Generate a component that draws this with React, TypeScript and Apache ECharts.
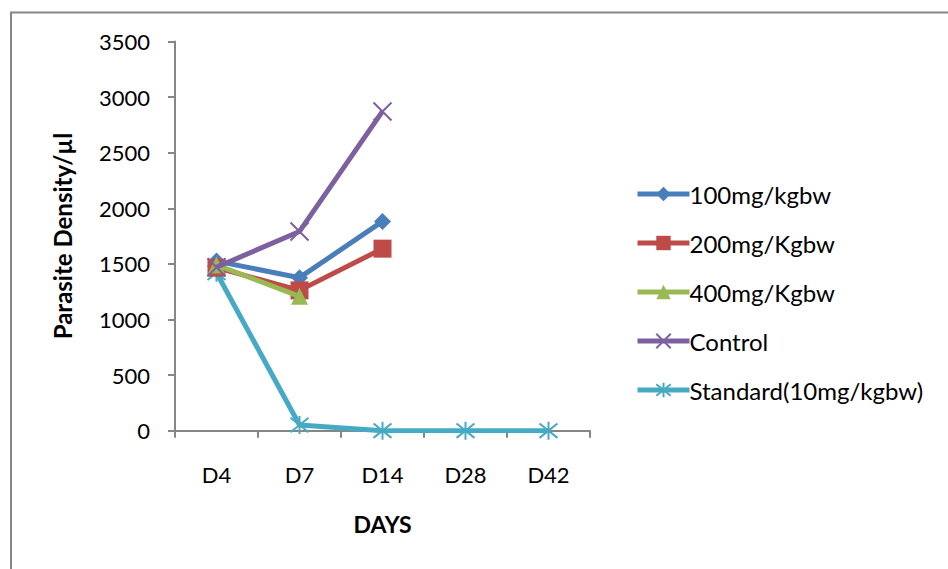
import React, { useEffect, useRef } from "react";
import * as echarts from "echarts";

const days = ["D4", "D7", "D14", "D28", "D42"];
const dose100 = [1525, 1376, 1882, null, null];
const dose200 = [1466, 1262, 1637, null, null];
const dose400 = [1490, 1208, null, null, null];
const control = [1470, 1792, 2871, null, null];
const standard = [1420, 51, 0, 0, 0];

const seriesNames = [
  "100mg/kgbw",
  "200mg/Kgbw",
  "400mg/Kgbw",
  "Control",
  "Standard(10mg/kgbw)",
];
const colors = ["#4a7ebb", "#be4b48", "#98b954", "#7d60a0", "#46aac5"];

const FONT = "Lato";

export default function App() {
  const ref = useRef<HTMLDivElement>(null);
  useEffect(() => {
    if (!ref.current) return;
    const chart = echarts.init(ref.current, null, { renderer: "svg" });
    const xPath = "path://M0,0 L10,10 M10,0 L0,10";
    const starPath = "path://M5,0 L5,10 M0,1 L10,9 M10,1 L0,9";
    const data = [dose100, dose200, dose400, control, standard];
    const symbols = ["diamond", "rect", "triangle", xPath, starPath];
    const sizes = [17, 18, 17, 18, 18];
    chart.setOption({
      animation: false,
      textStyle: { fontFamily: FONT },
      grid: { left: 175, top: 41.5, right: 358, bottom: 138.3, containLabel: false },
      legend: {
        orient: "vertical",
        left: 630,
        top: 177,
        itemWidth: 52,
        itemHeight: 18,
        itemGap: 25,
        lineStyle: { width: 5 },
        textStyle: { fontFamily: FONT, fontSize: 24, color: "#000", padding: [0, 0, 0, -5] },
        data: seriesNames,
      },
      xAxis: {
        type: "category",
        data: days,
        boundaryGap: true,
        name: "DAYS",
        nameLocation: "middle",
        nameGap: 82,
        nameTextStyle: { fontFamily: FONT, fontSize: 23, fontWeight: "bold", color: "#000" },
        axisLine: { lineStyle: { color: "#868686", width: 2 } },
        axisTick: { show: true, length: 7, alignWithLabel: false, lineStyle: { color: "#868686", width: 2 } },
        axisLabel: { fontFamily: FONT, fontSize: 22, color: "#000", margin: 33 },
        splitLine: { show: false },
      },
      yAxis: {
        type: "value",
        min: 0,
        max: 3500,
        interval: 500,
        name: "Parasite Density/µl",
        nameLocation: "middle",
        nameGap: 101,
        nameRotate: 90,
        nameTextStyle: { fontFamily: FONT, fontSize: 24, fontWeight: "bold", color: "#000" },
        axisLine: { show: true, lineStyle: { color: "#868686", width: 2 } },
        axisTick: { show: true, length: 7, lineStyle: { color: "#868686", width: 2 } },
        axisLabel: {
          fontFamily: FONT,
          fontSize: 22,
          color: "#000",
          margin: 25,
          formatter: (v: number) => String(v),
        },
        splitLine: { show: false },
      },
      graphic: [
        {
          type: "rect",
          shape: { x: 11, y: 12.5, width: 1000, height: 1000 },
          style: { fill: "none", stroke: "#868686", lineWidth: 2 },
          silent: true,
        },
      ],
      series: data.map((d, i) => ({
        name: seriesNames[i],
        type: "line",
        data: d,
        connectNulls: false,
        symbol: symbols[i],
        symbolSize: sizes[i],
        showAllSymbol: true,
        lineStyle: { color: colors[i], width: 5 },
        itemStyle:
          i >= 3
            ? { color: colors[i], borderColor: colors[i], borderWidth: 2 }
            : { color: colors[i], borderColor: colors[i], borderWidth: 0 },
        z: 2 + (i === 4 ? 0 : i),
      })),
    });
    return () => chart.dispose();
  }, []);
  return (
    <div
      ref={ref}
      style={{ position: "absolute", left: 0, top: 0, width: 948, height: 569, background: "#fff" }}
    />
  );
}
